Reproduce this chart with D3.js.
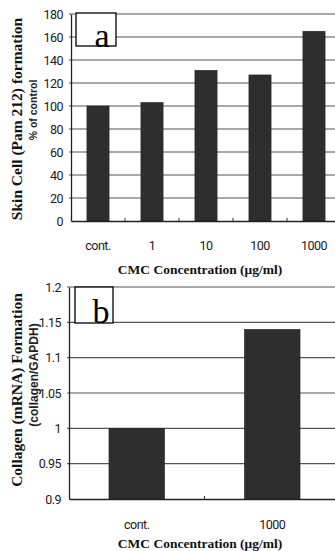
<!DOCTYPE html>
<html>
<head>
<meta charset="utf-8">
<script src="https://cdn.jsdelivr.net/npm/d3@7"></script>
<style>
  body { margin: 0; background: #fff; overflow: hidden; }
  svg { display: block; }
  .tick-lbl { font-family: "Liberation Sans Narrow", "Arial Narrow", Roboto, "Liberation Sans", sans-serif; font-size: 12.5px; fill: #1a1a1a; letter-spacing: -0.5px; }
  .xtitle { font-family: "Liberation Serif", "Times New Roman", serif; font-weight: bold; font-size: 13.5px; fill: #111; }
  .ytitle { font-family: "Liberation Serif", "Times New Roman", serif; font-weight: bold; fill: #111; }
  .ysub { font-family: "Liberation Sans", sans-serif; font-weight: bold; fill: #222; }
  .panel-lbl { font-family: "Liberation Serif", "Times New Roman", serif; font-size: 34px; fill: #000; }
</style>
</head>
<body>
<svg id="chart" width="335" height="551"></svg>
<script>
// 데이터 (a) 피부세포 형성
var catsA = ["cont.", "1", "10", "100", "1000"];
var valsA = [100, 103, 131, 127, 165];
var ticksA = [0, 20, 40, 60, 80, 100, 120, 140, 160, 180];

// 데이터 (b) 콜라겐 mRNA
var catsB = ["cont.", "1000"];
var valsB = [1.0, 1.14];
var ticksB = [0.9, 0.95, 1, 1.05, 1.1, 1.15, 1.2];

var svg = d3.select("#chart");

//패널 하나 그리기
function panel(o){
  var g = svg.append("g");

  var x = d3.scaleBand().domain(o.cats).range([o.left, o.right]).paddingInner(0.59).paddingOuter(0.295);
  var y = d3.scaleLinear().domain(o.domain).range([o.bottom, o.top]);

  //격자선
  g.selectAll("line.grid").data(o.ticks.slice(1)).enter().append("line")
    .attr("x1", o.left - 2).attr("x2", o.right)
    .attr("y1", function(d){ return y(d); }).attr("y2", function(d){ return y(d); })
    .attr("stroke", "#555").attr("stroke-width", 1.1);

  //막대
  g.selectAll("rect.bar").data(o.vals).enter().append("rect")
    .attr("x", function(d, i){ return x(o.cats[i]); })
    .attr("width", x.bandwidth())
    .attr("y", function(d){ return y(d); })
    .attr("height", function(d){ return y(o.domain[0]) - y(d); })
    .attr("fill", "#2e2e2e").attr("stroke", "#222").attr("stroke-width", 0.6);

  //축
  var yAxis = g.append("g").attr("transform", "translate(" + o.left + ",0)")
    .call(d3.axisLeft(y).tickValues(o.ticks).tickSize(0).tickPadding(8).tickFormat(o.fmt));
  yAxis.select(".domain").attr("stroke", "#222").attr("stroke-width", 1.3);
  yAxis.selectAll("text").attr("class", "tick-lbl").attr("font-size", null).attr("font-family", null);

  var xAxis = g.append("g").attr("transform", "translate(0," + o.bottom + ")")
    .call(d3.axisBottom(x).tickSize(0).tickPadding(o.xpad));
  xAxis.select(".domain").attr("stroke", "#222").attr("stroke-width", 1.3);
  xAxis.selectAll("text").attr("class", "tick-lbl").attr("font-size", null).attr("font-family", null);

  //카테고리 경계 눈금 (안쪽)
  var step = x.step();
  g.selectAll("line.minor").data(o.cats.slice(1)).enter().append("line")
    .attr("x1", function(d){ return x(d) - step * 0.295; })
    .attr("x2", function(d){ return x(d) - step * 0.295; })
    .attr("y1", o.bottom).attr("y2", o.bottom - 3)
    .attr("stroke", "#333");

  //x축 제목
  g.append("text").attr("class", "xtitle").attr("text-anchor", "middle")
    .attr("x", 200).attr("y", o.xtitleY).text("CMC Concentration (μg/ml)");

  //y축 제목
  g.append("text").attr("class", "ytitle").attr("text-anchor", "middle")
    .attr("font-size", o.ySize)
    .attr("transform", "translate(22," + o.ytitleC + ") rotate(-90)")
    .text(o.ytitle);
  g.append("text").attr("class", "ysub").attr("text-anchor", "middle")
    .attr("font-size", o.subSize)
    .attr("transform", "translate(" + o.subX + "," + o.subC + ") rotate(-90)")
    .text(o.ysub);

  //패널 라벨 상자
  g.append("rect").attr("x", o.box[0]).attr("y", o.box[1]).attr("width", o.box[2]).attr("height", o.box[3])
    .attr("fill", "#fff").attr("stroke", "#000").attr("stroke-width", 1.3);
  g.append("text").attr("class", "panel-lbl").attr("text-anchor", "middle")
    .attr("x", o.lbl[0]).attr("y", o.lbl[1]).text(o.label);
}

panel({
  cats: catsA, vals: valsA, ticks: ticksA, domain: [0, 180],
  left: 71, right: 341, top: 14, bottom: 221, xpad: 20,
  fmt: d3.format("d"),
  xtitleY: 274, ytitle: "Skin Cell (Pam 212) formation", ytitleC: 119, ySize: "15.5px",
  ysub: "% of control", subX: 37, subC: 110, subSize: "10.5px",
  box: [76, 13, 40, 33], lbl: [102, 47], label: "a"
});

panel({
  cats: catsB, vals: valsB, ticks: ticksB, domain: [0.9, 1.2],
  left: 69, right: 340, top: 287, bottom: 499, xpad: 21,
  fmt: function(d){ return d3.format("")(+d.toFixed(2)); },
  xtitleY: 548, ytitle: "Collagen (mRNA) Formation", ytitleC: 390, ySize: "15.5px",
  ysub: "(collagen/GAPDH)", subX: 38, subC: 375, subSize: "12px",
  box: [75, 287, 38, 36], lbl: [101, 323], label: "b"
});
</script>
</body>
</html>
